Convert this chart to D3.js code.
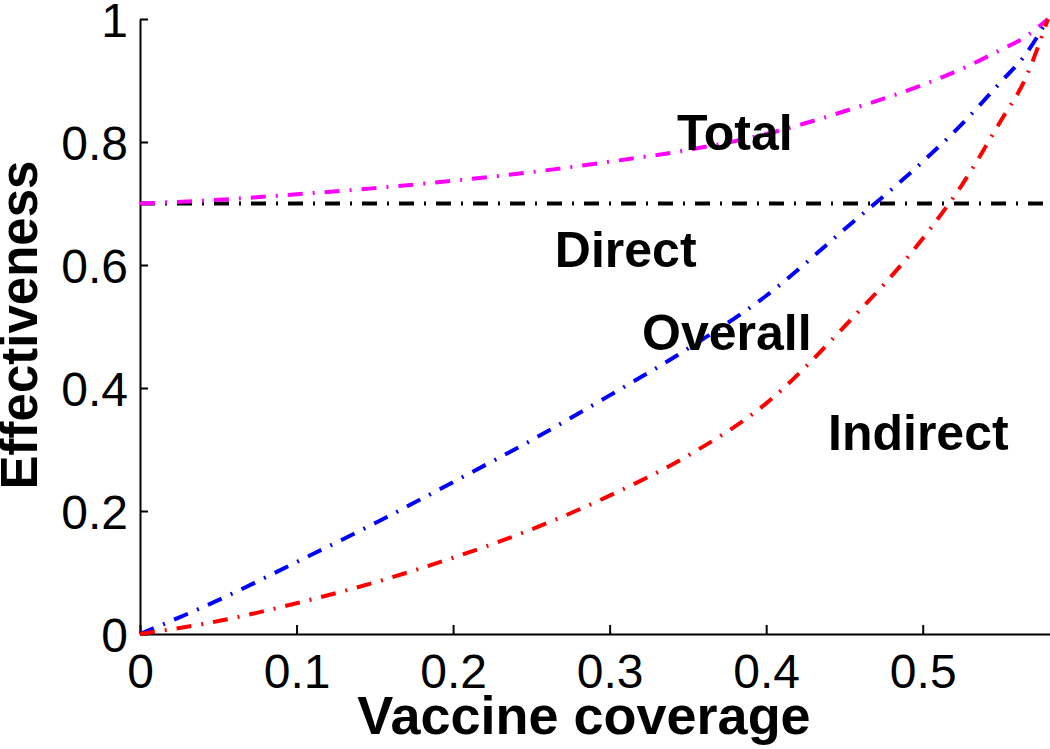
<!DOCTYPE html>
<html>
<head>
<meta charset="utf-8">
<script src="https://cdn.jsdelivr.net/npm/d3@7"></script>
<style>
  html, body { margin: 0; padding: 0; background: #fff; }
  svg { display: block; font-family: "Liberation Sans", Arial, sans-serif; }
</style>
</head>
<body>
<svg id="chart" width="1050" height="749"></svg>
<script>
// ---- data ----
const coverage = [0, 0.05, 0.1, 0.15, 0.2, 0.25, 0.3, 0.35, 0.4, 0.45, 0.5, 0.525, 0.55, 0.565, 0.58];
const totalEff = [0.7, 0.706, 0.715, 0.725, 0.737, 0.751, 0.768, 0.787, 0.813, 0.85, 0.893, 0.919, 0.95, 0.97, 1.0];
const directEff = [0.7, 0.7, 0.7, 0.7, 0.7, 0.7, 0.7, 0.7, 0.7, 0.7, 0.7, 0.7, 0.7, 0.7, 0.7];
const overallEff = [0, 0.055, 0.117, 0.18, 0.247, 0.315, 0.388, 0.464, 0.55, 0.658, 0.768, 0.829, 0.898, 0.94, 1.0];
const indirectEff = [0, 0.021, 0.05, 0.084, 0.124, 0.17, 0.225, 0.29, 0.375, 0.5, 0.643, 0.73, 0.835, 0.9, 1.0];
const xTicks = [0, 0.1, 0.2, 0.3, 0.4, 0.5];
const yTicks = [0, 0.2, 0.4, 0.6, 0.8, 1];
const seriesNames = ["Direct", "Total", "Overall", "Indirect"];
const xTitle = "Vaccine coverage";
const yTitle = "Effectiveness";

// ---- layout ----
const svg = d3.select("#chart");
const x = d3.scaleLinear().domain([0, 0.5813]).range([140, 1050]);
const y = d3.scaleLinear().domain([0, 1]).range([634, 19]);

const seriesData = {
  Direct: directEff,
  Total: totalEff,
  Overall: overallEff,
  Indirect: indirectEff
};
const colors = { Direct: "#000000", Total: "#ff00ff", Overall: "#0000ff", Indirect: "#ff0000" };
// label anchors in data coordinates
const labelPos = {
  Total: [0.343, 0.787],
  Direct: [0.265, 0.597],
  Overall: [0.3207, 0.462],
  Indirect: [0.4395, 0.299]
};

// ---- axes ----
const xAxis = d3.axisBottom(x).tickValues(xTicks).tickSizeInner(-9).tickSizeOuter(0)
  .tickFormat(d => d === 0 ? "0" : d3.format("")(d));
const yAxis = d3.axisLeft(y).tickValues(yTicks).tickSizeInner(-8).tickSizeOuter(0)
  .tickFormat(d => (d === 0 || d === 1) ? String(d) : d3.format("")(d));

const gx = svg.append("g").attr("transform", `translate(0,${y(0)})`).call(xAxis);
const gy = svg.append("g").attr("transform", `translate(${x(0)},0)`).call(yAxis);

[gx, gy].forEach(g => {
  g.select(".domain").attr("stroke", "#000").attr("stroke-width", 2);
  g.selectAll(".tick line").attr("stroke", "#000").attr("stroke-width", 2);
  g.selectAll(".tick text").attr("fill", "#000").attr("font-size", 48)
    .attr("font-family", "'Liberation Sans', Arial, sans-serif");
});
gx.selectAll(".tick text").attr("y", 54).attr("dy", 0);
gy.selectAll(".tick text").attr("x", -12).attr("dy", 17);

// ---- lines ----
const line = d3.line()
  .x(d => x(d[0]))
  .y(d => y(d[1]))
  .curve(d3.curveMonotoneX);

seriesNames.forEach(name => {
  const pts = coverage.map((c, i) => [c, seriesData[name][i]]);
  svg.append("path")
    .datum(pts)
    .attr("d", line)
    .attr("fill", "none")
    .attr("stroke", colors[name])
    .attr("stroke-width", 4)
    .attr("stroke-dasharray", "15,10,2,10");
});

// ---- series labels ----
seriesNames.forEach(name => {
  svg.append("text")
    .attr("x", x(labelPos[name][0]))
    .attr("y", y(labelPos[name][1]))
    .attr("font-size", 50)
    .attr("font-weight", "bold")
    .attr("fill", "#000")
    .text(name);
});

// ---- axis titles ----
svg.append("text")
  .attr("x", 584)
  .attr("y", 734)
  .attr("text-anchor", "middle")
  .attr("font-size", 54)
  .attr("font-weight", "bold")
  .attr("fill", "#000")
  .text(xTitle);

svg.append("text")
  .attr("transform", `translate(37,325) rotate(-90)`)
  .attr("text-anchor", "middle")
  .attr("font-size", 51)
  .attr("font-weight", "bold")
  .attr("fill", "#000")
  .text(yTitle);
</script>
</body>
</html>
